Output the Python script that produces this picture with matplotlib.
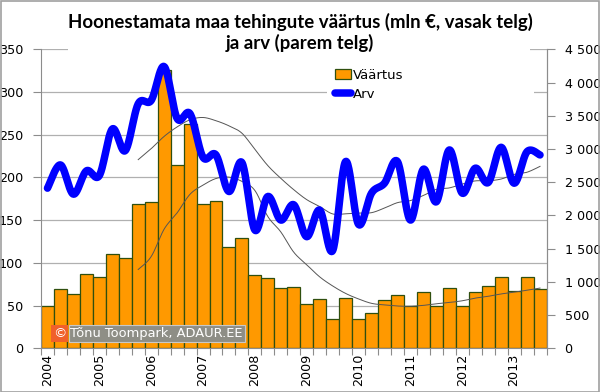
import numpy as np
import matplotlib
matplotlib.use("Agg")
import matplotlib.pyplot as plt
from matplotlib.patches import Rectangle, Patch
from matplotlib.lines import Line2D
from matplotlib.ticker import FuncFormatter

# ---- data (quarterly, 2004 Q1 .. 2013 Q3) ----
years = [str(y) for y in range(2004, 2014)]
vaartus = [50, 69, 63, 87, 84, 110, 106, 169, 171, 326,
           215, 262, 169, 172, 119, 129, 86, 82, 71, 72,
           52, 58, 34, 59, 34, 41, 56, 62, 50, 66,
           49, 71, 50, 66, 73, 84, 67, 84, 69]
arv = [2410, 2760, 2320, 2670, 2600, 3300, 2975, 3680, 3730, 4240,
       3460, 3530, 2875, 2910, 2360, 2795, 1780, 2285, 1930, 2160,
       1680, 2080, 1470, 2810, 1865, 2335, 2485, 2810, 1930, 2695,
       2205, 2985, 2335, 2710, 2495, 3025, 2485, 2960, 2910]
ma_period = 8

title = "Hoonestamata maa tehingute väärtus (mln €, vasak telg)\nja arv (parem telg)"


def smooth(x, y, n=24):
    x = np.asarray(x, float)
    y = np.asarray(y, float)
    xs, ys = [], []
    m = len(x)
    t = np.linspace(0, 1, n, endpoint=False)
    for i in range(m - 1):
        i0 = max(i - 1, 0)
        i3 = min(i + 2, m - 1)
        px = [x[i], x[i] + (x[i + 1] - x[i0]) / 6, x[i + 1] - (x[i3] - x[i]) / 6, x[i + 1]]
        py = [y[i], y[i] + (y[i + 1] - y[i0]) / 6, y[i + 1] - (y[i3] - y[i]) / 6, y[i + 1]]
        b = [(1 - t) ** 3, 3 * (1 - t) ** 2 * t, 3 * (1 - t) * t ** 2, t ** 3]
        xs.append(sum(bb * p for bb, p in zip(b, px)))
        ys.append(sum(bb * p for bb, p in zip(b, py)))
    xs.append([x[-1]])
    ys.append([y[-1]])
    return np.concatenate(xs), np.concatenate(ys)


def moving_avg(v, k):
    v = np.asarray(v, float)
    return np.array([v[i - k + 1:i + 1].mean() for i in range(k - 1, len(v))])


n = len(vaartus)
x = np.arange(n)

fig = plt.figure(figsize=(6.0, 3.92), dpi=100)
ax = fig.add_axes([41 / 600, 1 - 348.3 / 392, 505.5 / 600, 299 / 392])

gray = "#8C8C8C"
grid = "#B0B0B0"

ax.bar(x, vaartus, width=1.0, color="#FF9900", edgecolor="#2F4F0F", linewidth=0.9, zorder=2)
ax.set_xlim(-0.5, n - 0.5)
ax.set_ylim(0, 350)
ax.set_yticks(np.arange(0, 351, 50))
ax.set_axisbelow(True)
ax.yaxis.grid(True, color=grid, linewidth=0.9)
ax.xaxis.grid(False)

ma_v = moving_avg(vaartus, ma_period)
sxv, syv = smooth(x[ma_period - 1:], ma_v)
ax.plot(sxv, syv, color="#555555", linewidth=0.7, zorder=3)

# x ticks: boundaries as major ticks, year labels at Q1 centers
ax.set_xticks(np.arange(-0.5, n, 1.0))
ax.set_xticklabels([])
ax.set_xticks(np.arange(0, n, 4), minor=True)
ax.set_xticklabels(years, minor=True, rotation=90, fontsize=9.2, family="DejaVu Sans")
ax.tick_params(axis="x", which="major", length=5, color=gray, direction="out")
ax.tick_params(axis="x", which="minor", length=0, pad=4)
ax.tick_params(axis="y", length=6, color=gray, direction="out", pad=7, labelsize=9.2)

ax.spines["top"].set_visible(False)
for s in ["left", "bottom", "right"]:
    ax.spines[s].set_color(gray)

# white box behind legend
ax.add_patch(Rectangle((0.566, 0.83), 0.41, 0.14, transform=ax.transAxes,
                       facecolor="white", edgecolor="none", zorder=1))

ax2 = ax.twinx()
ax2.set_ylim(0, 4500)
ax2.set_yticks(np.arange(0, 4501, 500))
ax2.yaxis.set_major_formatter(FuncFormatter(lambda v, p: f"{v:,.0f}".replace(",", " ")))
ax2.tick_params(axis="y", length=6, color=gray, direction="out", pad=7, labelsize=9.2)
for s in ["top", "left", "bottom"]:
    ax2.spines[s].set_visible(False)
ax2.spines["right"].set_color(gray)

sx, sy = smooth(x, arv)
ax2.plot(sx, sy, color="#0000FF", linewidth=5.4, solid_capstyle="round", zorder=4)
ma_a = moving_avg(arv, ma_period)
sxa, sya = smooth(x[ma_period - 1:], ma_a)
ax2.plot(sxa, sya, color="#555555", linewidth=0.7, zorder=3)

handles = [Patch(facecolor="#FF9900", edgecolor="#2F4F0F", linewidth=0.9),
           Line2D([], [], color="#0000FF", linewidth=5.4, solid_capstyle="round")]
leg = ax2.legend(handles, ["Väärtus", "Arv"], loc="upper left",
                 bbox_to_anchor=(0.582, 0.935), frameon=False, fontsize=9.5,
                 handlelength=1.2, handletextpad=0.15, labelspacing=0.45,
                 borderaxespad=0, borderpad=0)

# title with white backing
fig.add_artist(Rectangle((68 / 600, 1 - 53 / 392), 462 / 600, 8 / 392,
                         transform=fig.transFigure, facecolor="white",
                         edgecolor="none", zorder=0.5))
fig.text(0.5, 1 - 32.5 / 392, title, ha="center", va="center", fontsize=13.4,
         fontweight="bold", family="Lato", linespacing=1.15)

# watermark
fig.text(70.5 / 600, 1 - 333.5 / 392, "Tõnu Toompark, ADAUR.EE", color="white",
         fontsize=9.4, family="DejaVu Sans", va="center", ha="left", zorder=6,
         bbox=dict(boxstyle="square,pad=0.15", facecolor="#8E8E86", edgecolor="#C8C8C8", linewidth=0.8))
fig.text(59.5 / 600, 1 - 333.5 / 392, "©", color="white", fontsize=9.5,
         family="DejaVu Sans", va="center", ha="center", zorder=7,
         bbox=dict(boxstyle="square,pad=0.14", facecolor="#F0602A", edgecolor="none"))

# outer border
fig.add_artist(Rectangle((0.001, 0.001), 0.997, 0.997, transform=fig.transFigure,
                         facecolor="none", edgecolor="#A0A0A0", linewidth=1.2, zorder=10))

fig.savefig("out.png", dpi=100)
